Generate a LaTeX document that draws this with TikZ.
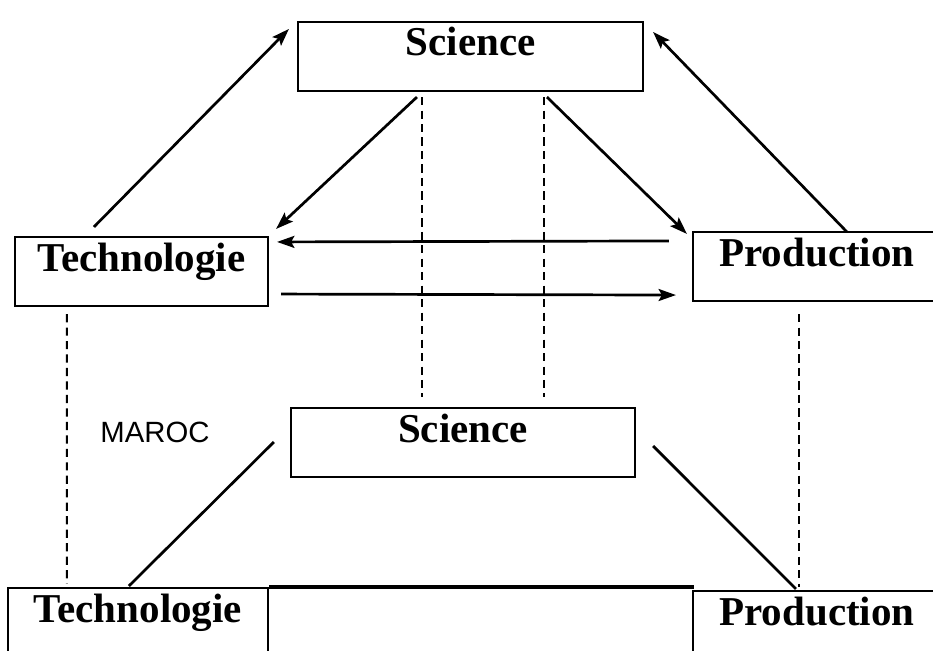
\documentclass[tikz,border=0pt]{standalone}
\usepackage{fontspec}
\setmainfont{Liberation Serif}
\setsansfont{Liberation Sans}
\usetikzlibrary{arrows.meta,calc}

\begin{document}
\begin{tikzpicture}[x=0.03cm, y=-0.03cm,
  box/.style={draw, line width=1.8pt, anchor=base, inner sep=0pt,
              text height=1.02cm, text depth=1.05cm,
              font=\bfseries\fontsize{35}{40}\selectfont},
  arr/.style={-{Stealth[length=5.2mm, width=3.6mm, inset=1mm]}, line width=2.3pt},
  link/.style={line width=2.3pt},
  dashline/.style={dashed, dash pattern=on 7pt off 4.5pt, line width=1.8pt}]
\clip (0,0) rectangle (933,651);
% upper triangle
\node[box, minimum width=10.35cm] (sciTop) at (470.5,56) {Science};
\node[box, minimum width=7.59cm] (techTop) at (141.5,271) {Technologie};
\node[box, minimum width=7.44cm] (prodTop) at (817,266) {Production};
% lower triangle (Maroc)
\node[box, minimum width=10.32cm] (sciBot) at (463,442) {Science};
\node[box, minimum width=7.8cm] (techBot) at (138,622) {Technologie};
\node[box, minimum width=7.44cm] (prodBot) at (817,625) {Production};
\node[anchor=north west, outer sep=0pt, inner sep=0pt, minimum width=12.75cm,
      minimum height=3cm] (midBot) at (techBot.north east) {};
\draw[line width=3pt] (midBot.north west) -- (midBot.north east);
\node[font=\sffamily\fontsize{25}{30}\selectfont] (maroc) at (155,432) {MAROC};
% arrows between the upper boxes
\draw[arr] ($(techTop.north west)+(80,-9)$) -- ($(sciTop.north west)+(-8,8)$);
\draw[arr] ($(prodTop.north west)+(155,1)$) -- ($(sciTop.north east)+(9,11)$);
\draw[arr] ($(sciTop.south west)+(120,5)$) -- ($(techTop.north east)+(7,-7)$);
\draw[arr] ($(sciTop.south west)+(250,5)$) -- ($(prodTop.north west)+(-5,3)$);
\draw[arr] ($(prodTop.north west)+(-23,10)$) -- ($(techTop.north east)+(8,6)$);
\draw[arr] ($(techTop.south east)+(12,-13)$) -- ($(prodTop.south west)+(-16,-7)$);
% dashed links down to Maroc
\draw[dashline] ($(sciTop.south west)+(125,5)$) -- ($(sciBot.north west)+(132,-10)$);
\draw[dashline] ($(sciTop.south west)+(247,5)$) -- ($(sciBot.north west)+(254,-10)$);
\draw[dashline] ($(techTop.south west)+(53,7)$) -- ($(techBot.north west)+(60,-3)$);
\draw[dashline] ($(prodTop.south west)+(107,12)$) -- ($(prodBot.north west)+(107,-3)$);
% lower links
\draw[link] ($(sciBot.north west)+(-16,35)$) -- ($(techBot.north west)+(122,-1)$);
\draw[link] ($(sciBot.north east)+(17,39)$) -- ($(prodBot.north west)+(104,-1)$);
\end{tikzpicture}
\end{document}
